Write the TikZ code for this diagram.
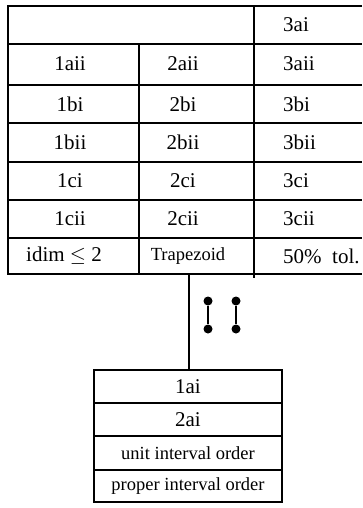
\documentclass[tikz,border=0pt]{standalone}
\usepackage{fontspec}
\setmainfont{Liberation Serif}

\begin{document}
\begin{tikzpicture}[x=1pt,y=-1pt,
 rule/.style={line width=2.2pt},
 entry/.style={inner sep=0pt,font=\fontsize{21}{21}\selectfont},
 small entry/.style={entry,font=\fontsize{18.5}{18.5}\selectfont},
 dot/.style={circle,fill,inner sep=0pt,minimum size=9pt}]
\useasboundingbox (0,0) rectangle (362,508);

% upper table
\draw[rule] (362,6) -- (8,6) -- (8,274) -- (362,274);
\foreach \y in {44,85,123,162,200,238}
 \draw[rule] (8,\y) -- (362,\y);
\draw[rule] (139,44) -- (139,274);
\draw[rule] (254,6) -- (254,278);

\node[entry,anchor=west] (r0c3) at (283,25) {3ai};
\foreach \y/\a/\b/\c [count=\i] in {64/1aii/2aii/3aii, 104/1bi/2bi/3bi,
 142/1bii/2bii/3bii, 181/1ci/2ci/3ci, 219/1cii/2cii/3cii} {
 \node[entry] (r\i c1) at (70,\y) {\a};
 \node[entry] (r\i c2) at (183,\y) {\b};
 \node[entry,anchor=west] (r\i c3) at (283,\y) {\c};
}
\node[entry] (idim) at (64,256) {idim $\leq$ 2};
\node[small entry] (trap) at (188,256) {Trapezoid};
\node[entry,anchor=west] (tol) at (283,256) {50\%\ \ tol.};

% link to the lower box
\coordinate (up) at (189,274);
\coordinate (down) at (189,370);
\draw[rule] (up) -- (down);

\node[dot] (p1) at (208,301) {};
\node[dot] (q1) at (208,329) {};
\node[dot] (p2) at (236,301) {};
\node[dot] (q2) at (236,329) {};
\draw[rule] (p1) -- (q1);
\draw[rule] (p2) -- (q2);

% lower box
\draw[rule] (94,370) rectangle (282,502);
\foreach \y in {403,436,470}
 \draw[rule] (94,\y) -- (282,\y);
\node[entry] (ai1) at (188,387) {1ai};
\node[entry] (ai2) at (188,420) {2ai};
\node[small entry] (unit) at (188,453) {unit interval order};
\node[small entry] (proper) at (188,486) {proper interval order};
\end{tikzpicture}
\end{document}
